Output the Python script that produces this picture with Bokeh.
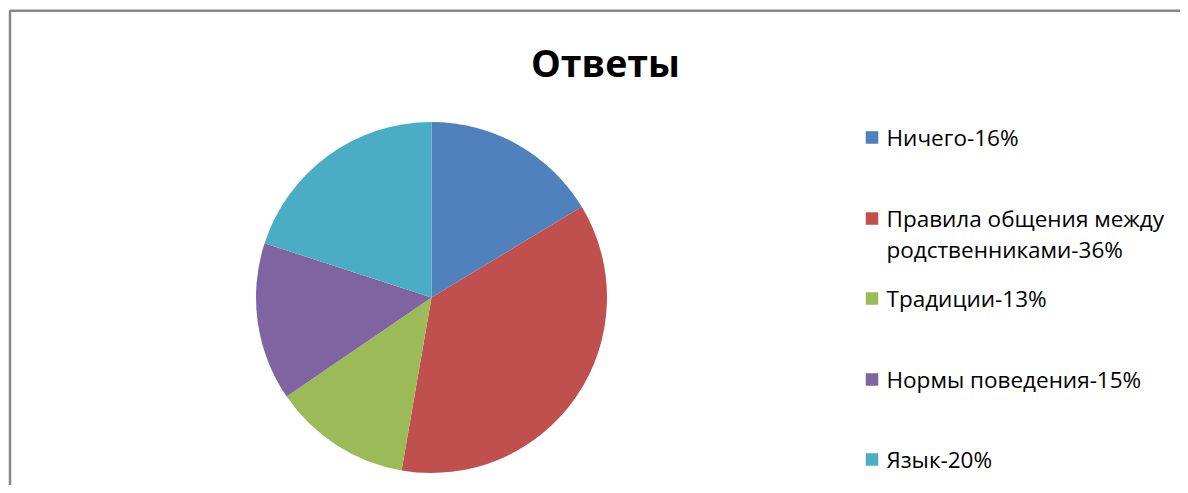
import math
from bokeh.plotting import figure
from bokeh.models import Range1d
from bokeh.core.properties import value
from bokeh.embed import file_html
from bokeh.resources import INLINE

# ---- data ----
title_text = "Ответы"
categories = ["Ничего-16%", "Правила общения между\nродственниками-36%", "Традиции-13%",
              "Нормы поведения-15%", "Язык-20%"]
# slice sizes (answer counts; labels show rounded shares)
counts = [9, 20, 7, 8, 11]
colors = ["#4F81BD", "#C0504D", "#9BBB59", "#8064A2", "#4BACC6"]

W, H = 1180, 485


def X(px):
    return px


def Y(py):
    return H - py


p = figure(width=W, height=H, output_backend="svg", toolbar_location=None,
           x_range=Range1d(0, W), y_range=Range1d(0, H), min_border=0)
p.axis.visible = False
p.grid.visible = False
p.outline_line_color = None
p.background_fill_color = "white"
p.border_fill_color = "white"

# frame (left and top edges visible)
p.line(x=[X(9.5), X(9.5), W + 5], y=[-5, Y(10.3), Y(10.3)], line_color="#878787", line_width=2.5)

# pie
total = float(sum(counts))
cx, cy, r = X(431), Y(297), 175.5
cum = 0.0
starts, ends = [], []
for s in counts:
    a0 = math.pi / 2 - 2 * math.pi * cum / total
    cum += s
    a1 = math.pi / 2 - 2 * math.pi * cum / total
    starts.append(a0)
    ends.append(a1)
p.wedge(x=[cx] * len(counts), y=[cy] * len(counts), radius=r, start_angle=starts,
        end_angle=ends, direction="clock", fill_color=colors, line_color=None)

# title
p.text(x=[X(605)], y=[Y(62)], text=[title_text], text_font=value("Open Sans"),
       text_font_style="bold", text_font_size="37.5px", text_align="center",
       text_baseline="middle", text_color="black")

# legend
leg_y = [137, 233.5, 298, 379, 459]
sq = 12.5
p.rect(x=[X(871.5)] * 5, y=[Y(v) for v in [137, 218, 298, 379, 459]], width=sq, height=sq,
       fill_color=colors, line_color=None)
for i, lab in enumerate(categories):
    p.text(x=[X(886)], y=[Y(leg_y[i])], text=[lab], text_font=value("Open Sans"),
           text_font_size="22.5px", text_align="left", text_baseline="middle",
           text_color="black", text_line_height=1.0)

open("out.html", "w").write(file_html(p, INLINE))
